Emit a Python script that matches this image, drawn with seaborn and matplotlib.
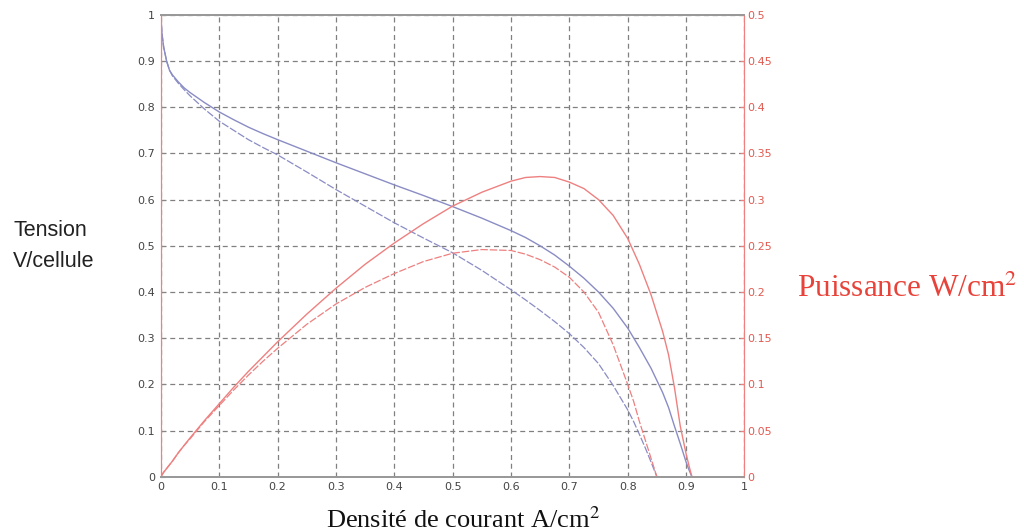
import matplotlib
matplotlib.use("Agg")
import matplotlib.pyplot as plt
import numpy as np
import pandas as pd
import seaborn as sns

# courbe 1 (trait plein)
courant_1 = [0, 0.002, 0.005, 0.01, 0.015, 0.02, 0.03, 0.04, 0.05, 0.075, 0.1, 0.125, 0.15, 0.175,
             0.2, 0.25, 0.3, 0.35, 0.4, 0.45, 0.5, 0.55, 0.6, 0.625, 0.65, 0.675, 0.7, 0.725,
             0.75, 0.775, 0.8, 0.82, 0.84, 0.86, 0.87, 0.88, 0.89, 0.9, 0.905, 0.91]
tension_1 = [1.0, 0.96, 0.93, 0.9, 0.88, 0.87, 0.855, 0.842, 0.832, 0.81, 0.79, 0.773, 0.757, 0.743,
             0.73, 0.705, 0.68, 0.656, 0.632, 0.609, 0.585, 0.56, 0.533, 0.518, 0.5, 0.48, 0.456, 0.43,
             0.4, 0.365, 0.322, 0.28, 0.235, 0.182, 0.15, 0.11, 0.072, 0.032, 0.015, 0.0]
puissance_1 = [0, 0.002, 0.005, 0.009, 0.013, 0.017, 0.026, 0.034, 0.042, 0.061, 0.079, 0.097, 0.114, 0.13,
               0.146, 0.176, 0.204, 0.23, 0.253, 0.274, 0.293, 0.308, 0.32, 0.324, 0.325, 0.324, 0.319, 0.312,
               0.3, 0.283, 0.258, 0.23, 0.197, 0.157, 0.132, 0.097, 0.055, 0.025, 0.012, 0.0]

# courbe 2 (trait pointille)
courant_2 = [0, 0.002, 0.005, 0.01, 0.015, 0.02, 0.03, 0.04, 0.05, 0.075, 0.1, 0.125, 0.15, 0.175,
             0.2, 0.25, 0.3, 0.35, 0.4, 0.45, 0.5, 0.55, 0.6, 0.625, 0.65, 0.675, 0.7, 0.725,
             0.75, 0.775, 0.8, 0.81, 0.82, 0.83, 0.84, 0.845, 0.85]
tension_2 = [1.0, 0.96, 0.93, 0.9, 0.88, 0.868, 0.852, 0.838, 0.825, 0.796, 0.77, 0.75, 0.73, 0.713,
             0.697, 0.66, 0.622, 0.586, 0.55, 0.517, 0.485, 0.447, 0.405, 0.383, 0.36, 0.336, 0.31, 0.28,
             0.245, 0.198, 0.145, 0.12, 0.092, 0.063, 0.032, 0.016, 0.0]
puissance_2 = [0, 0.002, 0.005, 0.009, 0.013, 0.017, 0.026, 0.034, 0.041, 0.06, 0.077, 0.094, 0.11, 0.125,
               0.139, 0.165, 0.187, 0.205, 0.22, 0.233, 0.242, 0.246, 0.245, 0.241, 0.235, 0.227, 0.216, 0.2,
               0.178, 0.143, 0.1, 0.082, 0.06, 0.04, 0.02, 0.01, 0.0]

df1 = pd.DataFrame({"i": courant_1, "V": tension_1, "P": puissance_1})
df2 = pd.DataFrame({"i": courant_2, "V": tension_2, "P": puissance_2})

bleu = "#8a8cc4"
rouge = "#ee8080"

sns.set_style("white")
plt.rcParams["mathtext.fontset"] = "stix"
fig, ax = plt.subplots(figsize=(10.24, 5.31), dpi=100)
fig.subplots_adjust(left=0.157, right=0.727, top=0.972, bottom=0.102)
ax2 = ax.twinx()

tirets = (0, (6, 1.5))
sns.lineplot(data=df1, x="i", y="V", ax=ax, color=bleu, lw=1.0, sort=False)
sns.lineplot(data=df2, x="i", y="V", ax=ax, color=bleu, lw=0.9, ls=tirets, sort=False)
sns.lineplot(data=df1, x="i", y="P", ax=ax2, color=rouge, lw=1.0, sort=False)
sns.lineplot(data=df2, x="i", y="P", ax=ax2, color=rouge, lw=0.9, ls=tirets, sort=False)

ax.set_xlim(0, 1)
ax.set_ylim(0, 1)
ax2.set_ylim(0, 0.5)
ax.set_xticks(np.arange(0, 1.01, 0.1))
ax.set_yticks(np.arange(0, 1.01, 0.1))
ax2.set_yticks(np.arange(0, 0.501, 0.05))
ax.set_xticklabels(["0", "0.1", "0.2", "0.3", "0.4", "0.5", "0.6", "0.7", "0.8", "0.9", "1"])
ax.set_yticklabels(["0", "0.1", "0.2", "0.3", "0.4", "0.5", "0.6", "0.7", "0.8", "0.9", "1"])
ax2.set_yticklabels(["0", "0.05", "0.1", "0.15", "0.2", "0.25", "0.3", "0.35", "0.4", "0.45", "0.5"])

ax.grid(True, ls=(0, (4, 3)), color="#808080", lw=0.9)
ax.set_xlabel("")
ax.set_ylabel("")
ax2.set_ylabel("")

ax.tick_params(axis="both", direction="in", length=3, labelsize=8, labelcolor="#444444",
               color="#888888", pad=4)
ax2.tick_params(axis="y", direction="in", length=3, labelsize=8, labelcolor="#e05a50",
                color=rouge, pad=2)

for a in (ax, ax2):
    a.spines["top"].set_color("#999999")
    a.spines["bottom"].set_color("#999999")
    a.spines["top"].set_linewidth(1.3)
    a.spines["bottom"].set_linewidth(1.3)
    a.spines["left"].set_color(rouge)
    a.spines["right"].set_color(rouge)

fig.text(0.0127, 0.5556, "Tension", fontsize=15.5, family="Liberation Sans",
         color="#222222", ha="left", va="baseline")
fig.text(0.0127, 0.4972, "V/cellule", fontsize=15.5, family="Liberation Sans",
         color="#222222", ha="left", va="baseline")
fig.text(0.778, 0.4407, "Puissance W/cm$^2$", fontsize=22.5, family="Liberation Serif",
         color="#e8433a", ha="left", va="baseline")
fig.text(0.452, 0.006, "Densité de courant A/cm$^2$", fontsize=19, family="Liberation Serif",
         color="#111111", ha="center", va="baseline")

fig.savefig("out.png", dpi=100)
